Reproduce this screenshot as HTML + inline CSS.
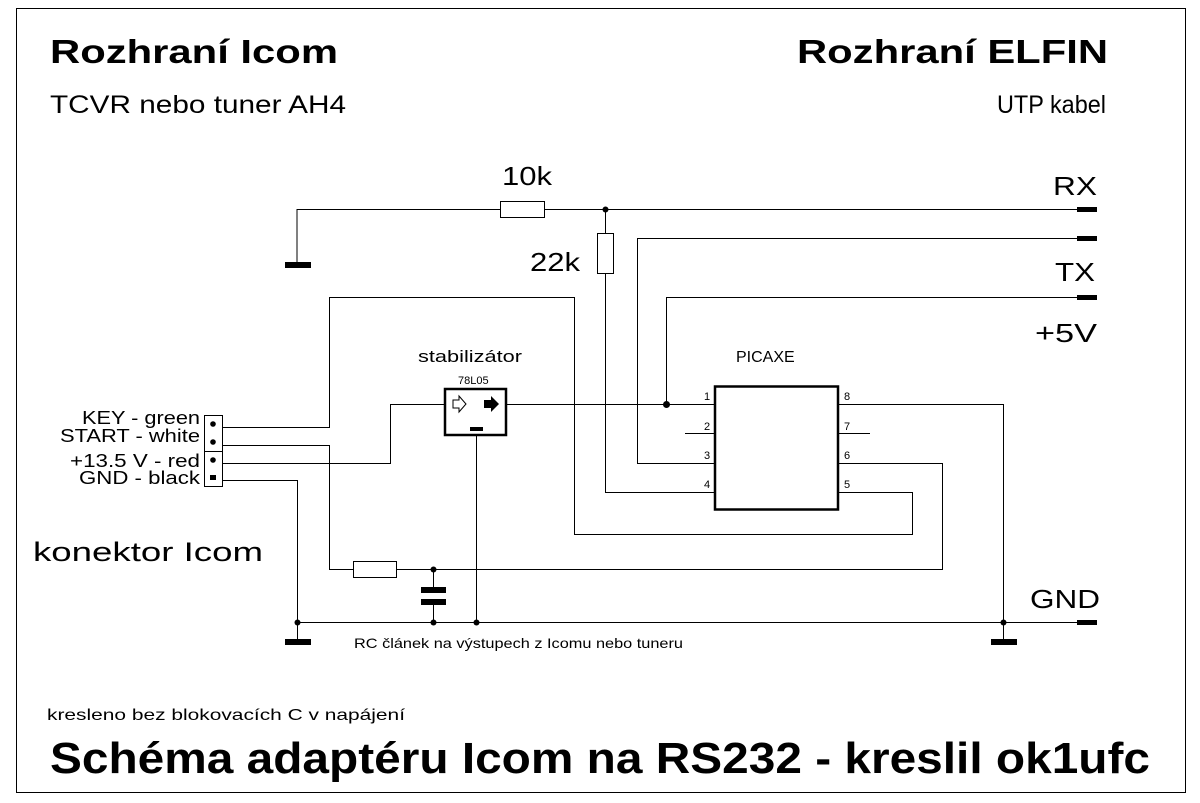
<!DOCTYPE html>
<html><head><meta charset="utf-8"><style>
html,body{margin:0;padding:0;background:#fff}
svg{display:block}
text{font-family:"Liberation Sans",Arial,sans-serif;fill:#000}
</style></head><body>
<svg width="1200" height="803" viewBox="0 0 1200 803" xmlns="http://www.w3.org/2000/svg">
<rect x="16.5" y="8.5" width="1169" height="784" fill="none" stroke="#000" stroke-width="1"/>

<!-- titles -->
<text x="50" y="63" font-size="33" font-weight="bold" textLength="288" lengthAdjust="spacingAndGlyphs">Rozhraní Icom</text>
<text x="50" y="113" font-size="25" textLength="296" lengthAdjust="spacingAndGlyphs">TCVR nebo tuner AH4</text>
<text x="797" y="63" font-size="33" font-weight="bold" textLength="311" lengthAdjust="spacingAndGlyphs">Rozhraní ELFIN</text>
<text x="997" y="113" font-size="25" textLength="109" lengthAdjust="spacingAndGlyphs">UTP kabel</text>
<text x="50" y="773" font-size="44" font-weight="bold" textLength="1100" lengthAdjust="spacingAndGlyphs">Schéma adaptéru Icom na RS232 - kreslil ok1ufc</text>
<text x="47" y="720" font-size="16" textLength="358" lengthAdjust="spacingAndGlyphs">kresleno bez blokovacích C v napájení</text>
<text x="354" y="648" font-size="14" textLength="329" lengthAdjust="spacingAndGlyphs">RC článek na výstupech z Icomu nebo tuneru</text>
<text x="33" y="561" font-size="27" textLength="230" lengthAdjust="spacingAndGlyphs">konektor Icom</text>

<!-- connector labels -->
<g font-size="18">
<text x="82" y="424" textLength="118" lengthAdjust="spacingAndGlyphs">KEY - green</text>
<text x="60" y="442" textLength="140" lengthAdjust="spacingAndGlyphs">START - white</text>
<text x="70" y="467" textLength="130" lengthAdjust="spacingAndGlyphs">+13.5 V - red</text>
<text x="79" y="484" textLength="121" lengthAdjust="spacingAndGlyphs">GND - black</text>
</g>

<!-- labels -->
<text x="502" y="185" font-size="26" textLength="50" lengthAdjust="spacingAndGlyphs">10k</text>
<text x="530" y="271" font-size="26" textLength="50" lengthAdjust="spacingAndGlyphs">22k</text>
<text x="1053" y="195" font-size="26" textLength="44" lengthAdjust="spacingAndGlyphs">RX</text>
<text x="1055" y="281" font-size="26" textLength="40" lengthAdjust="spacingAndGlyphs">TX</text>
<text x="1035" y="342" font-size="26" textLength="62" lengthAdjust="spacingAndGlyphs">+5V</text>
<text x="1030" y="608" font-size="26" textLength="70" lengthAdjust="spacingAndGlyphs">GND</text>
<text x="418" y="362" font-size="17" textLength="104" lengthAdjust="spacingAndGlyphs">stabilizátor</text>
<text x="458" y="384" font-size="11">78L05</text>
<text x="736" y="362" font-size="16">PICAXE</text>
<text x="759" y="455" font-size="15">08M2</text>
<g font-size="11">
<text x="704" y="400">1</text><text x="704" y="430">2</text><text x="704" y="459">3</text><text x="704" y="488">4</text>
<text x="844" y="400">8</text><text x="844" y="430">7</text><text x="844" y="459">6</text><text x="844" y="488">5</text>
</g>

<g stroke="#000" stroke-width="1" fill="none">
<polyline points="297,265 297,209.5 500,209.5"/>
<line x1="545" y1="209.5" x2="1080" y2="209.5"/>
<rect x="500.5" y="201.5" width="44" height="16" fill="#fff"/>
<line x1="605.5" y1="209" x2="605.5" y2="233"/>
<rect x="597.5" y="233.5" width="16" height="40" fill="#fff"/>
<polyline points="605.5,273 605.5,492.5 715,492.5"/>
<polyline points="1080,238.5 637.5,238.5 637.5,463.5 715,463.5"/>
<polyline points="1080,297.5 666.5,297.5 666.5,404.5"/>
<line x1="506" y1="404.5" x2="715" y2="404.5"/>
<line x1="685" y1="433.5" x2="715" y2="433.5"/>
<line x1="838" y1="433.5" x2="870" y2="433.5"/>
<polyline points="838,404.5 1003.5,404.5 1003.5,642"/>
<polyline points="838,492.5 912.5,492.5 912.5,534.5 574.5,534.5 574.5,297.5 329.5,297.5 329.5,427.5 222,427.5"/>
<polyline points="838,463.5 942.5,463.5 942.5,569.5 396,569.5"/>
<polyline points="354,569.5 329.5,569.5 329.5,445.5 222,445.5"/>
<rect x="353.5" y="561.5" width="43" height="16" fill="#fff"/>
<polyline points="222,463.5 390.5,463.5 390.5,404.5 445,404.5"/>
<polyline points="222,480.5 297.5,480.5 297.5,642"/>
<line x1="297" y1="622.5" x2="1080" y2="622.5"/>
<line x1="476.5" y1="435" x2="476.5" y2="622"/>
<line x1="433.5" y1="569" x2="433.5" y2="590"/>
<line x1="433.5" y1="604" x2="433.5" y2="622"/>
</g>

<rect x="421" y="587" width="25" height="6" fill="#000"/>
<rect x="421" y="599" width="25" height="6" fill="#000"/>

<rect x="285" y="262" width="26" height="6" fill="#000"/>
<rect x="285" y="639" width="26" height="6" fill="#000"/>
<rect x="991" y="639" width="26" height="6" fill="#000"/>
<rect x="1077" y="207" width="20" height="5" fill="#000"/>
<rect x="1077" y="236" width="20" height="5" fill="#000"/>
<rect x="1077" y="295" width="20" height="5" fill="#000"/>
<rect x="1077" y="620" width="20" height="5" fill="#000"/>

<g fill="#000">
<circle cx="605.5" cy="209.5" r="3"/>
<circle cx="666.5" cy="404.5" r="3.5"/>
<circle cx="433.5" cy="569.5" r="3"/>
<circle cx="297.5" cy="622.5" r="3"/>
<circle cx="433.5" cy="622.5" r="3"/>
<circle cx="476.5" cy="622.5" r="3"/>
<circle cx="1003.5" cy="622.5" r="3"/>
</g>

<rect x="445" y="389" width="61" height="46" fill="#fff" stroke="#000" stroke-width="2.5"/>
<polygon points="453,400 459,400 459,396 466,404 459,412 459,408 453,408" fill="#fff" stroke="#000" stroke-width="1"/>
<polygon points="484,400 491,400 491,396 499,404 491,412 491,408 484,408" fill="#000"/>
<rect x="470" y="427" width="13" height="4" fill="#000"/>

<rect x="715" y="386.5" width="123" height="123" fill="#fff" stroke="#000" stroke-width="2.5"/>

<rect x="204.5" y="415.5" width="18" height="71" fill="#fff" stroke="#000" stroke-width="1"/>
<line x1="204" y1="451.5" x2="222" y2="451.5" stroke="#000"/>
<g fill="#000">
<circle cx="213" cy="424" r="2.8"/>
<circle cx="213" cy="442" r="2.8"/>
<circle cx="213" cy="460" r="2.8"/>
<rect x="210" y="475" width="6" height="5"/>
</g>
</svg>
</body></html>
